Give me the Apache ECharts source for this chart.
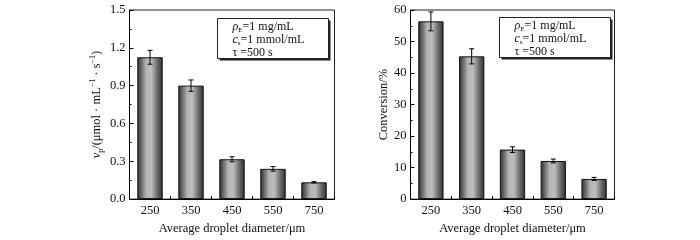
<!DOCTYPE html>
<html><head><meta charset="utf-8">
<script src="https://cdn.jsdelivr.net/npm/echarts@6/dist/echarts.min.js"></script>
<style>html,body{margin:0;padding:0;background:#fff}#c{width:700px;height:240px}</style>
</head><body><div id="c"></div>
<script>
// ---- data ----
var categories = ['250', '350', '450', '550', '750'];
var rateValues = [1.125, 0.900, 0.316, 0.240, 0.133];
var rateErrors = [0.055, 0.045, 0.020, 0.018, 0.005];
var convValues = [56.4, 45.3, 15.7, 12.1, 6.4];
var convErrors = [3.0, 2.4, 0.9, 0.6, 0.5];
var rateTicks = [0, 1.5, 0.3];   // min, max, interval
var convTicks = [0, 60, 10];

var FONT = '"Liberation Serif", "Times New Roman", serif';

var barColor = {
  type: 'linear', x: 0, y: 0, x2: 1, y2: 0,
  colorStops: [
    {offset: 0, color: '#2e2e2e'},
    {offset: 0.12, color: '#5a5a5a'},
    {offset: 0.35, color: '#b4b4b4'},
    {offset: 0.55, color: '#bdbdbd'},
    {offset: 0.78, color: '#6e6e6e'},
    {offset: 1, color: '#2e2e2e'}
  ]
};

function errData(vals, errs) {
  return vals.map(function (v, i) { return [i, v - errs[i], v + errs[i]]; });
}
function errRender(params, api) {
  var x = api.value(0);
  var lo = api.coord([x, api.value(1)]);
  var hi = api.coord([x, api.value(2)]);
  var cw = 2.5;
  var st = {stroke: '#000', lineWidth: 1};
  return {
    type: 'group',
    children: [
      {type: 'line', shape: {x1: lo[0], y1: lo[1], x2: hi[0], y2: hi[1]}, style: st},
      {type: 'line', shape: {x1: lo[0] - cw, y1: lo[1], x2: lo[0] + cw, y2: lo[1]}, style: st},
      {type: 'line', shape: {x1: hi[0] - cw, y1: hi[1], x2: hi[0] + cw, y2: hi[1]}, style: st}
    ]
  };
}

function xAx(idx) {
  return {
    type: 'category', gridIndex: idx, data: categories,
    name: 'Average droplet diameter/μm', nameLocation: 'middle', nameGap: 18,
    nameTextStyle: {fontFamily: FONT, fontSize: 12.5, color: '#111'},
    axisLine: {lineStyle: {color: '#000', width: 1}},
    axisTick: {show: true, inside: true, length: 3, lineStyle: {color: '#000'}},
    axisLabel: {fontFamily: FONT, fontSize: 12.5, color: '#111', margin: 5},
    splitLine: {show: false}
  };
}
function yAx(idx, t, fmt, nameCfg) {
  return Object.assign({
    type: 'value', gridIndex: idx, min: t[0], max: t[1], interval: t[2],
    nameLocation: 'middle', nameRotate: 90,
    axisLine: {show: true, lineStyle: {color: '#000', width: 1}},
    axisTick: {show: true, inside: true, length: 4, lineStyle: {color: '#000'}},
    minorTick: {show: true, splitNumber: 2, length: 2, lineStyle: {color: '#000'}},
    axisLabel: {fontFamily: FONT, fontSize: 12.5, color: '#111', margin: 4, formatter: fmt},
    splitLine: {show: false}
  }, nameCfg);
}

var subRich = {
  n: {fontFamily: FONT, fontSize: 12.5, color: '#111', lineHeight: 16, verticalAlign: 'middle'},
  i: {fontFamily: FONT, fontSize: 12.5, color: '#111', fontStyle: 'italic', lineHeight: 16, verticalAlign: 'middle'},
  sub: {fontFamily: FONT, fontSize: 8, color: '#111', lineHeight: 16, verticalAlign: 'bottom'},
  sup: {fontFamily: FONT, fontSize: 8, color: '#111', lineHeight: 16, verticalAlign: 'top'}
};

function legendBox(x, y) {
  var w = 111, h = 40;
  return {
    type: 'group', left: x, top: y,
    children: [
      {type: 'rect', shape: {x: 2, y: 2, width: w, height: h}, style: {fill: '#222'}},
      {type: 'rect', shape: {x: 0, y: 0, width: w, height: h}, style: {fill: '#fff', stroke: '#222', lineWidth: 1}},
      {type: 'text', x: 15, y: 2, style: {
        text: '{i|ρ}{sub|E}{n|=1 mg/mL}\n{i|c}{sub|s}{n|=1 mmol/mL}\n{n|τ =500 s}',
        rich: {
          n: {fontFamily: FONT, fontSize: 12, fill: '#111', lineHeight: 13, verticalAlign: 'middle'},
          i: {fontFamily: FONT, fontSize: 12, fill: '#111', fontStyle: 'italic', lineHeight: 13, verticalAlign: 'middle'},
          sub: {fontFamily: FONT, fontSize: 7, fill: '#111', lineHeight: 13, verticalAlign: 'bottom'}
        }
      }}
    ]
  };
}

var chart = echarts.init(document.getElementById('c'), null, {renderer: 'canvas'});
chart.setOption({
  animation: false,
  backgroundColor: '#fff',
  grid: [
    {left: 129.5, top: 10, width: 205, height: 190.5, show: true, borderColor: '#222', borderWidth: 1, backgroundColor: 'transparent'},
    {left: 410.5, top: 10, width: 204, height: 190.5, show: true, borderColor: '#222', borderWidth: 1, backgroundColor: 'transparent'}
  ],
  xAxis: [xAx(0), xAx(1)],
  yAxis: [
    yAx(0, rateTicks, function (v) { return v.toFixed(1); }, {
      name: '{i|v}{sub|p}{n|/(μmol · mL}{sup|−1}{n| · s}{sup|−1}{n|)}',
      nameGap: 25,
      nameTextStyle: {rich: subRich}
    }),
    yAx(1, convTicks, function (v) { return String(v); }, {
      name: 'Conversion/%', nameGap: 19,
      nameTextStyle: {fontFamily: FONT, fontSize: 12.5, color: '#111'}
    })
  ],
  graphic: [legendBox(217, 18), legendBox(499, 17)],
  series: [
    {type: 'bar', xAxisIndex: 0, yAxisIndex: 0, data: rateValues, barWidth: '62%',
     itemStyle: {color: barColor, borderColor: '#111', borderWidth: 1}},
    {type: 'custom', xAxisIndex: 0, yAxisIndex: 0, data: errData(rateValues, rateErrors), renderItem: errRender, z: 5},
    {type: 'bar', xAxisIndex: 1, yAxisIndex: 1, data: convValues, barWidth: '62%',
     itemStyle: {color: barColor, borderColor: '#111', borderWidth: 1}},
    {type: 'custom', xAxisIndex: 1, yAxisIndex: 1, data: errData(convValues, convErrors), renderItem: errRender, z: 5}
  ]
});
</script>
</body></html>
